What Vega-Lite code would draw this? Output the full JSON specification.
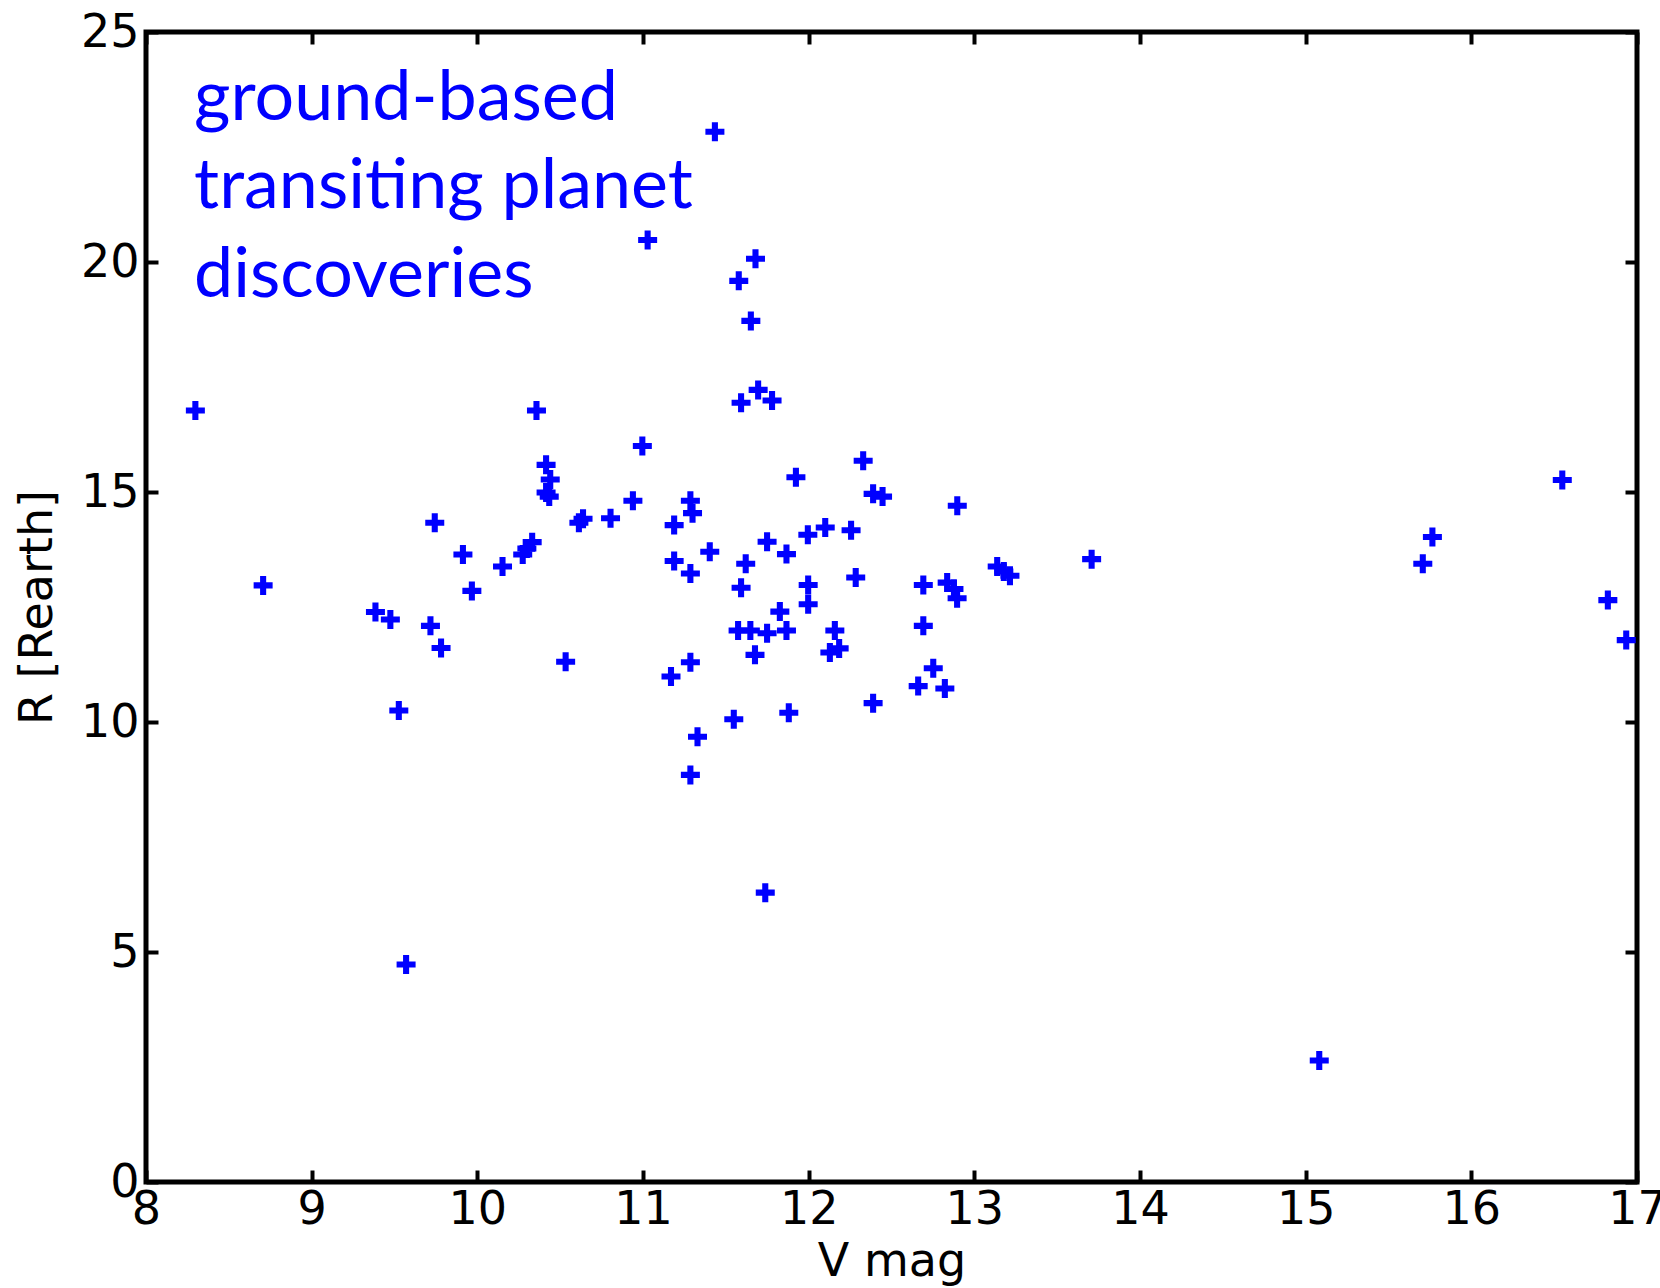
{
  "$schema": "https://vega.github.io/schema/vega-lite/v6.json",
  "width": 1491,
  "height": 1150,
  "autosize": {"type": "none"},
  "padding": {"left": 146, "top": 32, "right": 23, "bottom": 106},
  "background": "white",
  "config": {
    "view": {"stroke": "black", "strokeWidth": 5},
    "axis": {
      "domain": false,
      "grid": false,
      "tickColor": "black",
      "tickWidth": 4,
      "tickSize": -12,
      "labelFont": "DejaVu Sans",
      "labelFontSize": 46,
      "labelColor": "black",
      "titleFont": "DejaVu Sans",
      "titleFontSize": 46,
      "titleFontWeight": "normal",
      "titleColor": "black"
    }
  },
  "resolve": {"axis": {"x": "independent", "y": "independent"}},
  "layer": [
    {
      "data": {
        "values": [
          {"vmag": 8.298, "radius": 16.77},
          {"vmag": 8.707, "radius": 12.97},
          {"vmag": 9.385, "radius": 12.39},
          {"vmag": 9.475, "radius": 12.23},
          {"vmag": 9.526, "radius": 10.25},
          {"vmag": 9.570, "radius": 4.73},
          {"vmag": 9.717, "radius": 12.09},
          {"vmag": 9.743, "radius": 14.33},
          {"vmag": 9.781, "radius": 11.61},
          {"vmag": 9.913, "radius": 13.64},
          {"vmag": 9.967, "radius": 12.85},
          {"vmag": 10.152, "radius": 13.38},
          {"vmag": 10.274, "radius": 13.64},
          {"vmag": 10.299, "radius": 13.77},
          {"vmag": 10.331, "radius": 13.91},
          {"vmag": 10.357, "radius": 16.77},
          {"vmag": 10.415, "radius": 15.59},
          {"vmag": 10.440, "radius": 15.27},
          {"vmag": 10.415, "radius": 14.99},
          {"vmag": 10.434, "radius": 14.90},
          {"vmag": 10.533, "radius": 11.31},
          {"vmag": 10.613, "radius": 14.33},
          {"vmag": 10.638, "radius": 14.42},
          {"vmag": 10.804, "radius": 14.43},
          {"vmag": 10.939, "radius": 14.81},
          {"vmag": 10.996, "radius": 16.00},
          {"vmag": 11.028, "radius": 20.48},
          {"vmag": 11.169, "radius": 10.99},
          {"vmag": 11.188, "radius": 14.28},
          {"vmag": 11.188, "radius": 13.50},
          {"vmag": 11.286, "radius": 14.81},
          {"vmag": 11.299, "radius": 14.54},
          {"vmag": 11.286, "radius": 13.23},
          {"vmag": 11.286, "radius": 11.30},
          {"vmag": 11.286, "radius": 8.85},
          {"vmag": 11.329, "radius": 9.68},
          {"vmag": 11.403, "radius": 13.70},
          {"vmag": 11.434, "radius": 22.83},
          {"vmag": 11.548, "radius": 10.06},
          {"vmag": 11.578, "radius": 19.59},
          {"vmag": 11.592, "radius": 16.94},
          {"vmag": 11.592, "radius": 12.92},
          {"vmag": 11.574, "radius": 11.99},
          {"vmag": 11.620, "radius": 13.44},
          {"vmag": 11.651, "radius": 18.72},
          {"vmag": 11.679, "radius": 20.07},
          {"vmag": 11.695, "radius": 17.22},
          {"vmag": 11.648, "radius": 11.99},
          {"vmag": 11.676, "radius": 11.46},
          {"vmag": 11.749, "radius": 11.93},
          {"vmag": 11.749, "radius": 13.92},
          {"vmag": 11.779, "radius": 16.99},
          {"vmag": 11.738, "radius": 6.29},
          {"vmag": 11.826, "radius": 12.40},
          {"vmag": 11.866, "radius": 13.65},
          {"vmag": 11.866, "radius": 11.99},
          {"vmag": 11.880, "radius": 10.20},
          {"vmag": 11.923, "radius": 15.32},
          {"vmag": 11.995, "radius": 14.07},
          {"vmag": 11.997, "radius": 12.98},
          {"vmag": 11.997, "radius": 12.56},
          {"vmag": 12.100, "radius": 14.23},
          {"vmag": 12.128, "radius": 11.51},
          {"vmag": 12.158, "radius": 11.99},
          {"vmag": 12.184, "radius": 11.60},
          {"vmag": 12.256, "radius": 14.17},
          {"vmag": 12.284, "radius": 13.14},
          {"vmag": 12.329, "radius": 15.68},
          {"vmag": 12.389, "radius": 10.41},
          {"vmag": 12.389, "radius": 14.96},
          {"vmag": 12.446, "radius": 14.90},
          {"vmag": 12.661, "radius": 10.78},
          {"vmag": 12.692, "radius": 12.98},
          {"vmag": 12.692, "radius": 12.09},
          {"vmag": 12.752, "radius": 11.17},
          {"vmag": 12.822, "radius": 10.73},
          {"vmag": 12.836, "radius": 13.03},
          {"vmag": 12.877, "radius": 12.89},
          {"vmag": 12.896, "radius": 12.69},
          {"vmag": 12.897, "radius": 14.70},
          {"vmag": 13.138, "radius": 13.38},
          {"vmag": 13.178, "radius": 13.27},
          {"vmag": 13.215, "radius": 13.18},
          {"vmag": 13.708, "radius": 13.54},
          {"vmag": 15.082, "radius": 2.64},
          {"vmag": 15.707, "radius": 13.44},
          {"vmag": 15.765, "radius": 14.02},
          {"vmag": 16.549, "radius": 15.26},
          {"vmag": 16.824, "radius": 12.65},
          {"vmag": 16.935, "radius": 11.78}
        ]
      },
      "mark": {
        "type": "point",
        "shape": "M-1,-0.32H-0.32V-1H0.32V-0.32H1V0.32H0.32V1H-0.32V0.32H-1Z",
        "filled": true,
        "color": "#0000ff",
        "opacity": 1,
        "size": 361,
        "clip": true
      },
      "encoding": {
        "x": {
          "field": "vmag",
          "type": "quantitative",
          "scale": {"domain": [8, 17], "nice": false, "zero": false},
          "axis": {"orient": "bottom", "values": [8, 9, 10, 11, 12, 13, 14, 15, 16, 17], "title": "V mag", "labelPadding": 17, "titlePadding": 7, "labelFlush": false}
        },
        "y": {
          "field": "radius",
          "type": "quantitative",
          "scale": {"domain": [0, 25], "nice": false, "zero": true},
          "axis": {"orient": "left", "values": [0, 5, 10, 15, 20, 25], "title": "R [Rearth]", "labelPadding": 19, "titlePadding": 19, "labelFlush": false}
        }
      }
    },
    {
      "data": {"values": [{"label": "annotation"}]},
      "mark": {
        "type": "text",
        "text": ["ground-based", "transiting planet", "discoveries"],
        "font": "Lato",
        "fontSize": 70,
        "color": "#0000ff",
        "align": "left",
        "baseline": "alphabetic",
        "lineHeight": 88.5
      },
      "encoding": {
        "x": {
          "datum": 8.29,
          "type": "quantitative",
          "scale": {"domain": [8, 17], "nice": false, "zero": false},
          "axis": {"orient": "top", "values": [8, 9, 10, 11, 12, 13, 14, 15, 16, 17], "labels": false, "title": null}
        },
        "y": {
          "datum": 23.09,
          "type": "quantitative",
          "scale": {"domain": [0, 25], "nice": false, "zero": true},
          "axis": {"orient": "right", "values": [0, 5, 10, 15, 20, 25], "labels": false, "title": null}
        }
      }
    }
  ]
}
